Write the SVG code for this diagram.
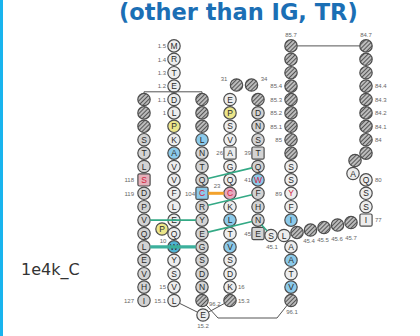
<svg xmlns="http://www.w3.org/2000/svg" width="420" height="336" viewBox="0 0 420 336">
<defs>
<pattern id="hatch" width="3" height="3" patternUnits="userSpaceOnUse" patternTransform="rotate(45)"><rect width="3" height="3" fill="#e8e8e8"/><line x1="1.5" y1="0" x2="1.5" y2="3" stroke="#555" stroke-width="1.6"/></pattern>
<style>
circle,rect.sq{stroke:#4d4d4d;stroke-width:1.2}
.g1{fill:#ededed}.g2{fill:#d3d3d3}.hx{fill:url(#hatch)}.yl{fill:#ece68a}.bl{fill:#8ccaea}.tl{fill:#4fb3d3}.pk{fill:#e7a9bf}.pks{fill:#e4b1bb}
text{font-family:"Liberation Sans",Arial,sans-serif}
.a{font-size:8.5px;text-anchor:middle;fill:#2a2a2a}
.rd{fill:#d4213d}
.lb{font-size:6px;fill:#666}
.le{text-anchor:end}.lm{text-anchor:middle}
.gray{fill:none;stroke:#555;stroke-width:1}
.grn{fill:none;stroke:#33a985;stroke-width:1.6}
.grnt{fill:none;stroke:#3cb09c;stroke-width:3.2}
.org{fill:none;stroke:#f3a22b;stroke-width:3}
</style>
</defs>
<rect x="0" y="0" width="3" height="336" fill="#18b4ee"/>
<text x="119" y="20" font-family="DejaVu Sans,Verdana,sans-serif" font-weight="bold" font-size="22.5" fill="#1b6fb5" style="font-family:'DejaVu Sans',Verdana,sans-serif">(other than IG, TR)</text>
<text x="21" y="275" style="font-family:'DejaVu Sans',Verdana,sans-serif;font-size:16px;fill:#333">1e4k_C</text>

<g id="nodes">
<!-- column A (G strand) -->
<g id="A0"><circle cx="144" cy="99.5" r="6.2" class="hx"/></g>
<g id="A1"><circle cx="144" cy="112.9" r="6.2" class="hx"/></g>
<g id="A2"><circle cx="144" cy="126.3" r="6.2" class="hx"/></g>
<g id="A3"><circle cx="144" cy="139.7" r="6.2" class="g2"/><text class="a" x="144" y="142.7">S</text></g>
<g id="A4"><circle cx="144" cy="153.1" r="6.2" class="g2"/><text class="a" x="144" y="156.1">T</text></g>
<g id="A5"><circle cx="144" cy="166.5" r="6.2" class="g2"/><text class="a" x="144" y="169.5">L</text></g>
<g id="A6"><rect class="sq pks" x="137.9" y="173.8" width="12.2" height="12.2" rx="1.5"/><text class="a rd" x="144" y="182.9">S</text><text class="lb le" x="134" y="182">118</text></g>
<g id="A7"><circle cx="144" cy="193.3" r="6.2" class="g2"/><text class="a" x="144" y="196.3">D</text><text class="lb le" x="134" y="195.5">119</text></g>
<g id="A8"><circle cx="144" cy="206.7" r="6.2" class="g2"/><text class="a" x="144" y="209.7">P</text></g>
<g id="A9"><circle cx="144" cy="220.1" r="6.2" class="g2"/><text class="a" x="144" y="223.1">V</text></g>
<g id="A10"><circle cx="144" cy="233.5" r="6.2" class="g2"/><text class="a" x="144" y="236.5">Q</text></g>
<g id="A11"><circle cx="144" cy="246.9" r="6.2" class="g2"/><text class="a" x="144" y="249.9">L</text></g>
<g id="A12"><circle cx="144" cy="260.3" r="6.2" class="g2"/><text class="a" x="144" y="263.3">E</text></g>
<g id="A13"><circle cx="144" cy="273.7" r="6.2" class="g2"/><text class="a" x="144" y="276.7">V</text></g>
<g id="A14"><circle cx="144" cy="287.1" r="6.2" class="g2"/><text class="a" x="144" y="290.1">H</text></g>
<g id="A15"><circle cx="144" cy="300.5" r="6.2" class="g2"/><text class="a" x="144" y="303.5">I</text><text class="lb le" x="134" y="302.7">127</text></g>

<!-- column B (A strand) -->
<g id="Bm4"><circle cx="174" cy="45.9" r="6.2" class="g1"/><text class="a" x="174" y="48.9">M</text><text class="lb le" x="166" y="48.1">1.5</text></g>
<g id="Bm3"><circle cx="174" cy="59.3" r="6.2" class="g1"/><text class="a" x="174" y="62.3">R</text><text class="lb le" x="166" y="61.5">1.4</text></g>
<g id="Bm2"><circle cx="174" cy="72.7" r="6.2" class="g1"/><text class="a" x="174" y="75.7">T</text><text class="lb le" x="166" y="74.9">1.3</text></g>
<g id="Bm1"><circle cx="174" cy="86.1" r="6.2" class="g1"/><text class="a" x="174" y="89.1">E</text><text class="lb le" x="166" y="88.3">1.2</text></g>
<g id="B0"><circle cx="174" cy="99.5" r="6.2" class="g1"/><text class="a" x="174" y="102.5">D</text><text class="lb le" x="166" y="101.7">1.1</text></g>
<g id="B1"><circle cx="174" cy="112.9" r="6.2" class="g1"/><text class="a" x="174" y="115.9">L</text><text class="lb le" x="166" y="115.1">1</text></g>
<g id="B2"><circle cx="174" cy="126.3" r="6.2" class="yl"/><text class="a" x="174" y="129.3">P</text></g>
<g id="B3"><circle cx="174" cy="139.7" r="6.2" class="g1"/><text class="a" x="174" y="142.7">K</text></g>
<g id="B4"><circle cx="174" cy="153.1" r="6.2" class="bl"/><text class="a" x="174" y="156.1">A</text></g>
<g id="B5"><circle cx="174" cy="166.5" r="6.2" class="g1"/><text class="a" x="174" y="169.5">V</text></g>
<g id="B6"><circle cx="174" cy="179.9" r="6.2" class="g1"/><text class="a" x="174" y="182.9">V</text></g>
<g id="B7"><circle cx="174" cy="193.3" r="6.2" class="g1"/><text class="a" x="174" y="196.3">F</text></g>
<g id="B8"><circle cx="174" cy="206.7" r="6.2" class="g1"/><text class="a" x="174" y="209.7">L</text></g>
<g id="B9"><circle cx="174" cy="220.1" r="6.2" class="g1"/><text class="a" x="174" y="223.1">E</text></g>
<g id="B10b"><circle cx="162" cy="229" r="6.2" class="yl"/><text class="a" x="162" y="232">P</text><text class="lb lm" x="163" y="243">10</text></g>
<g id="B10"><circle cx="174" cy="233.5" r="6.2" class="g1"/><text class="a" x="174" y="236.5">Q</text></g>
<g id="B11"><circle cx="174" cy="246.9" r="6.2" class="tl"/><text class="a" x="174" y="249.9">W</text></g>
<g id="B12"><circle cx="174" cy="260.3" r="6.2" class="g1"/><text class="a" x="174" y="263.3">Y</text></g>
<g id="B13"><circle cx="174" cy="273.7" r="6.2" class="g1"/><text class="a" x="174" y="276.7">S</text></g>
<g id="B14"><circle cx="174" cy="287.1" r="6.2" class="g1"/><text class="a" x="174" y="290.1">V</text><text class="lb le" x="166" y="289.3">15</text></g>
<g id="B15"><circle cx="174" cy="300.5" r="6.2" class="g1"/><text class="a" x="174" y="303.5">L</text><text class="lb le" x="166" y="302.7">15.1</text></g>
<g id="B152"><circle cx="203" cy="315" r="6.2" class="g1"/><text class="a" x="203" y="318">E</text><text class="lb lm" x="203" y="328">15.2</text></g>

<!-- column C (F strand) -->
<g id="C0"><circle cx="202" cy="99.5" r="6.2" class="hx"/></g>
<g id="C1"><circle cx="202" cy="112.9" r="6.2" class="hx"/></g>
<g id="C2"><circle cx="202" cy="126.3" r="6.2" class="hx"/></g>
<g id="C3"><circle cx="202" cy="139.7" r="6.2" class="bl"/><text class="a" x="202" y="142.7">L</text></g>
<g id="C4"><circle cx="202" cy="153.1" r="6.2" class="g2"/><text class="a" x="202" y="156.1">N</text></g>
<g id="C5"><circle cx="202" cy="166.5" r="6.2" class="g2"/><text class="a" x="202" y="169.5">T</text></g>
<g id="C6"><circle cx="202" cy="179.9" r="6.2" class="g2"/><text class="a" x="202" y="182.9">Q</text></g>
<g id="C7"><rect class="sq bl" x="195.9" y="187.2" width="12.2" height="12.2" rx="1.5"/><text class="a rd" x="202" y="196.3">C</text><text class="lb le" x="195" y="195.5">104</text></g>
<g id="C8"><circle cx="202" cy="206.7" r="6.2" class="g2"/><text class="a" x="202" y="209.7">R</text></g>
<g id="C9"><circle cx="202" cy="220.1" r="6.2" class="g2"/><text class="a" x="202" y="223.1">Y</text></g>
<g id="C10"><circle cx="202" cy="233.5" r="6.2" class="g2"/><text class="a" x="202" y="236.5">E</text></g>
<g id="C11"><circle cx="202" cy="246.9" r="6.2" class="g2"/><text class="a" x="202" y="249.9">G</text></g>
<g id="C12"><circle cx="202" cy="260.3" r="6.2" class="g2"/><text class="a" x="202" y="263.3">S</text></g>
<g id="C13"><circle cx="202" cy="273.7" r="6.2" class="g2"/><text class="a" x="202" y="276.7">D</text></g>
<g id="C14"><circle cx="202" cy="287.1" r="6.2" class="g2"/><text class="a" x="202" y="290.1">N</text></g>
<g id="C15"><circle cx="202" cy="300.5" r="6.2" class="hx"/><text class="lb" x="209" y="305.5">96.2</text></g>

<!-- column D (B strand) -->
<g id="D0"><circle cx="230" cy="99.5" r="6.2" class="g1"/><text class="a" x="230" y="102.5">E</text></g>
<g id="D31"><circle cx="236.5" cy="85" r="6.2" class="hx"/><text class="lb lm" x="224" y="81">31</text></g>
<g id="D34"><circle cx="251.5" cy="85" r="6.2" class="hx"/><text class="lb lm" x="264" y="81">34</text></g>
<g id="D1"><circle cx="230" cy="112.9" r="6.2" class="yl"/><text class="a" x="230" y="115.9">P</text></g>
<g id="D2"><circle cx="230" cy="126.3" r="6.2" class="g1"/><text class="a" x="230" y="129.3">S</text></g>
<g id="D3"><circle cx="230" cy="139.7" r="6.2" class="g1"/><text class="a" x="230" y="142.7">V</text></g>
<g id="D4"><rect class="sq g1" x="223.9" y="147" width="12.2" height="12.2" rx="1.5"/><text class="a" x="230" y="156.1">A</text><text class="lb le" x="223" y="155.3">26</text></g>
<g id="D5"><circle cx="230" cy="166.5" r="6.2" class="g1"/><text class="a" x="230" y="169.5">G</text></g>
<g id="D6"><circle cx="230" cy="179.9" r="6.2" class="g1"/><text class="a" x="230" y="182.9">Q</text></g>
<g id="D7"><circle cx="230" cy="193.3" r="6.2" class="pk"/><text class="a rd" x="230" y="196.3">C</text><text class="lb lm" x="217" y="187.5">23</text></g>
<g id="D8"><circle cx="230" cy="206.7" r="6.2" class="g1"/><text class="a" x="230" y="209.7">K</text></g>
<g id="D9"><circle cx="230" cy="220.1" r="6.2" class="bl"/><text class="a" x="230" y="223.1">L</text></g>
<g id="D10"><circle cx="230" cy="233.5" r="6.2" class="g1"/><text class="a" x="230" y="236.5">T</text></g>
<g id="D11"><circle cx="230" cy="246.9" r="6.2" class="bl"/><text class="a" x="230" y="249.9">V</text></g>
<g id="D12"><circle cx="230" cy="260.3" r="6.2" class="g1"/><text class="a" x="230" y="263.3">S</text></g>
<g id="D13"><circle cx="230" cy="273.7" r="6.2" class="g1"/><text class="a" x="230" y="276.7">D</text></g>
<g id="D14"><circle cx="230" cy="287.1" r="6.2" class="g1"/><text class="a" x="230" y="290.1">K</text><text class="lb" x="238" y="289.3">16</text></g>
<g id="D15"><circle cx="230" cy="300.5" r="6.2" class="hx"/><text class="lb" x="238" y="302.7">15.3</text></g>

<!-- column E (C strand) -->
<g id="E0"><circle cx="258" cy="99.5" r="6.2" class="hx"/></g>
<g id="E1"><circle cx="258" cy="112.9" r="6.2" class="g2"/><text class="a" x="258" y="115.9">D</text></g>
<g id="E2"><circle cx="258" cy="126.3" r="6.2" class="g2"/><text class="a" x="258" y="129.3">N</text></g>
<g id="E3"><circle cx="258" cy="139.7" r="6.2" class="g2"/><text class="a" x="258" y="142.7">S</text></g>
<g id="E4"><rect class="sq g2" x="251.9" y="147" width="12.2" height="12.2" rx="1.5"/><text class="a" x="258" y="156.1">T</text><text class="lb le" x="251" y="155.3">39</text></g>
<g id="E5"><circle cx="258" cy="166.5" r="6.2" class="g2"/><text class="a" x="258" y="169.5">Q</text></g>
<g id="E6"><circle cx="258" cy="179.9" r="6.2" class="bl"/><text class="a rd" x="258" y="182.9">W</text><text class="lb le" x="251" y="182.1">41</text></g>
<g id="E7"><circle cx="258" cy="193.3" r="6.2" class="g2"/><text class="a" x="258" y="196.3">F</text></g>
<g id="E8"><circle cx="258" cy="206.7" r="6.2" class="g2"/><text class="a" x="258" y="209.7">H</text></g>
<g id="E9"><circle cx="258" cy="220.1" r="6.2" class="g2"/><text class="a" x="258" y="223.1">N</text></g>
<g id="E10"><rect class="sq g2" x="251.9" y="227.4" width="12.2" height="12.2" rx="1.5"/><text class="a" x="258" y="236.5">E</text><text class="lb le" x="251" y="235.7">45</text></g>
<g id="E451"><circle cx="271" cy="235.5" r="6.2" class="g1"/><text class="a" x="271" y="238.5">S</text><text class="lb lm" x="272" y="249">45.1</text></g>
<g id="E452"><circle cx="284" cy="235.5" r="6.2" class="g1"/><text class="a" x="284" y="238.5">L</text></g>
<g id="E453"><circle cx="297" cy="232.5" r="6.2" class="hx"/></g>
<g id="E454"><circle cx="310.5" cy="230" r="6.2" class="hx"/><text class="lb lm" x="309" y="243">45.4</text></g>
<g id="E455"><circle cx="324" cy="227.5" r="6.2" class="hx"/><text class="lb lm" x="323" y="242">45.5</text></g>
<g id="E456"><circle cx="337.5" cy="225" r="6.2" class="hx"/><text class="lb lm" x="337" y="241">45.6</text></g>
<g id="E457"><circle cx="351" cy="222.5" r="6.2" class="hx"/><text class="lb lm" x="351" y="240">45.7</text></g>

<!-- column X (E strand) -->
<g id="Xm4"><circle cx="291" cy="45.9" r="6.2" class="hx"/><text class="lb lm" x="291" y="37">85.7</text></g>
<g id="Xm3"><circle cx="291" cy="59.3" r="6.2" class="hx"/></g>
<g id="Xm2"><circle cx="291" cy="72.7" r="6.2" class="hx"/></g>
<g id="Xm1"><circle cx="291" cy="86.1" r="6.2" class="hx"/><text class="lb le" x="282" y="88.3">85.4</text></g>
<g id="X0"><circle cx="291" cy="99.5" r="6.2" class="hx"/><text class="lb le" x="282" y="101.7">85.3</text></g>
<g id="X1"><circle cx="291" cy="112.9" r="6.2" class="hx"/><text class="lb le" x="282" y="115.1">85.2</text></g>
<g id="X2"><circle cx="291" cy="126.3" r="6.2" class="hx"/><text class="lb le" x="282" y="128.5">85.1</text></g>
<g id="X3"><circle cx="291" cy="139.7" r="6.2" class="hx"/><text class="lb le" x="282" y="141.9">85</text></g>
<g id="X4"><circle cx="291" cy="153.1" r="6.2" class="hx"/></g>
<g id="X5"><circle cx="291" cy="166.5" r="6.2" class="g1"/><text class="a" x="291" y="169.5">S</text></g>
<g id="X6"><circle cx="291" cy="179.9" r="6.2" class="g1"/><text class="a" x="291" y="182.9">S</text></g>
<g id="X7"><circle cx="291" cy="193.3" r="6.2" class="g1"/><text class="a rd" x="291" y="196.3">Y</text><text class="lb le" x="282" y="195.5">89</text></g>
<g id="X8"><circle cx="291" cy="206.7" r="6.2" class="g1"/><text class="a" x="291" y="209.7">F</text></g>
<g id="X9"><circle cx="291" cy="220.1" r="6.2" class="bl"/><text class="a" x="291" y="223.1">I</text></g>
<g id="X11"><circle cx="291" cy="246.9" r="6.2" class="g1"/><text class="a" x="291" y="249.9">A</text></g>
<g id="X12"><circle cx="291" cy="260.3" r="6.2" class="bl"/><text class="a" x="291" y="263.3">A</text></g>
<g id="X13"><circle cx="291" cy="273.7" r="6.2" class="g1"/><text class="a" x="291" y="276.7">T</text></g>
<g id="X14"><circle cx="291" cy="287.1" r="6.2" class="bl"/><text class="a" x="291" y="290.1">V</text></g>
<g id="X15"><circle cx="291" cy="300.5" r="6.2" class="hx"/><text class="lb lm" x="292" y="314">96.1</text></g>

<!-- right column (D strand) -->
<g id="Rm4"><circle cx="366" cy="45.9" r="6.2" class="hx"/><text class="lb lm" x="366" y="37">84.7</text></g>
<g id="Rm3"><circle cx="366" cy="59.3" r="6.2" class="hx"/></g>
<g id="Rm2"><circle cx="366" cy="72.7" r="6.2" class="hx"/></g>
<g id="Rm1"><circle cx="366" cy="86.1" r="6.2" class="hx"/><text class="lb" x="375" y="88.3">84.4</text></g>
<g id="R0"><circle cx="366" cy="99.5" r="6.2" class="hx"/><text class="lb" x="375" y="101.7">84.3</text></g>
<g id="R1"><circle cx="366" cy="112.9" r="6.2" class="hx"/><text class="lb" x="375" y="115.1">84.2</text></g>
<g id="R2"><circle cx="366" cy="126.3" r="6.2" class="hx"/><text class="lb" x="375" y="128.5">84.1</text></g>
<g id="R3"><circle cx="366" cy="139.7" r="6.2" class="hx"/><text class="lb" x="375" y="141.9">84</text></g>
<g id="R4"><circle cx="366" cy="153.1" r="6.2" class="hx"/></g>
<g id="R82"><circle cx="355" cy="160.5" r="6.2" class="hx"/></g>
<g id="R81"><circle cx="353" cy="173.5" r="6.2" class="g1"/><text class="a" x="353" y="176.5">A</text></g>
<g id="R6"><circle cx="366" cy="179.9" r="6.2" class="g1"/><text class="a" x="366" y="182.9">Q</text><text class="lb" x="375" y="182.1">80</text></g>
<g id="R7"><circle cx="366" cy="193.3" r="6.2" class="g1"/><text class="a" x="366" y="196.3">S</text></g>
<g id="R8"><circle cx="366" cy="206.7" r="6.2" class="g1"/><text class="a" x="366" y="209.7">S</text></g>
<g id="R9"><rect class="sq g1" x="359.9" y="214" width="12.2" height="12.2" rx="1.5"/><text class="a" x="366" y="223.1">I</text><text class="lb" x="375" y="222.3">77</text></g>
</g>

<g id="connectors">
<path class="gray" d="M297.2 45.9H359.8"/>
<path class="gray" d="M144 93.3V91.8H202V93.3"/>
<path class="gray" d="M179.5 303.3L197.5 312.2"/>
<path class="gray" d="M208.5 312.1L224.5 303.4"/>
<path class="gray" d="M206.2 305.1L218 318H277L287.1 305.3"/>
<path class="org" d="M208.2 193.3H223.8"/>
<path class="grn" d="M150.2 220.1H195.8"/>
<path class="grnt" d="M150.2 246.9H195.8"/>
<path class="grn" d="M208 178.5L252 167.9"/>
<path class="grn" d="M208 205.3L252 194.7"/>
<path class="grn" d="M208 232.1L252 221.5"/>
<path class="grn" d="M261.5 224.8L267 230.8"/>
</g>
</svg>
